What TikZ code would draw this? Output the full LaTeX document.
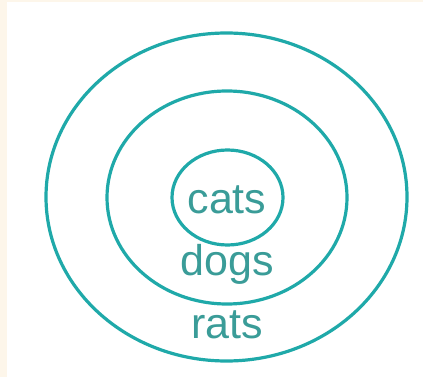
\documentclass[tikz,border=0pt]{standalone}
\usepackage{fontspec}
\setmainfont{Liberation Sans}
\definecolor{ringteal}{HTML}{1FA9A9}
\definecolor{textteal}{HTML}{3A9C98}
\definecolor{cream}{HTML}{FDF6EA}
\begin{document}
\begin{tikzpicture}[x=1pt,y=-1pt,
  ring/.style={draw=ringteal,line width=3.2pt},
  lbl/.style={text=textteal,font=\fontsize{43}{43}\selectfont,inner sep=0pt}]
\useasboundingbox (0,0) rectangle (423,377);
\fill[cream] (0,0) rectangle (423,377);
\fill[white] (7,2.5) rectangle (423,377);
\draw[ring] (226.5,197) ellipse [x radius=180.5,y radius=164];
\draw[ring] (227,197.5) ellipse [x radius=120,y radius=106.5];
\draw[ring] (227.5,197.5) ellipse [x radius=55.5,y radius=47.5];
\node[lbl] (cats) at (227,200) {cats};
\node[lbl] (dogs) at (227,264) {dogs};
\node[lbl] (rats) at (227,325) {rats};
\end{tikzpicture}
\end{document}
